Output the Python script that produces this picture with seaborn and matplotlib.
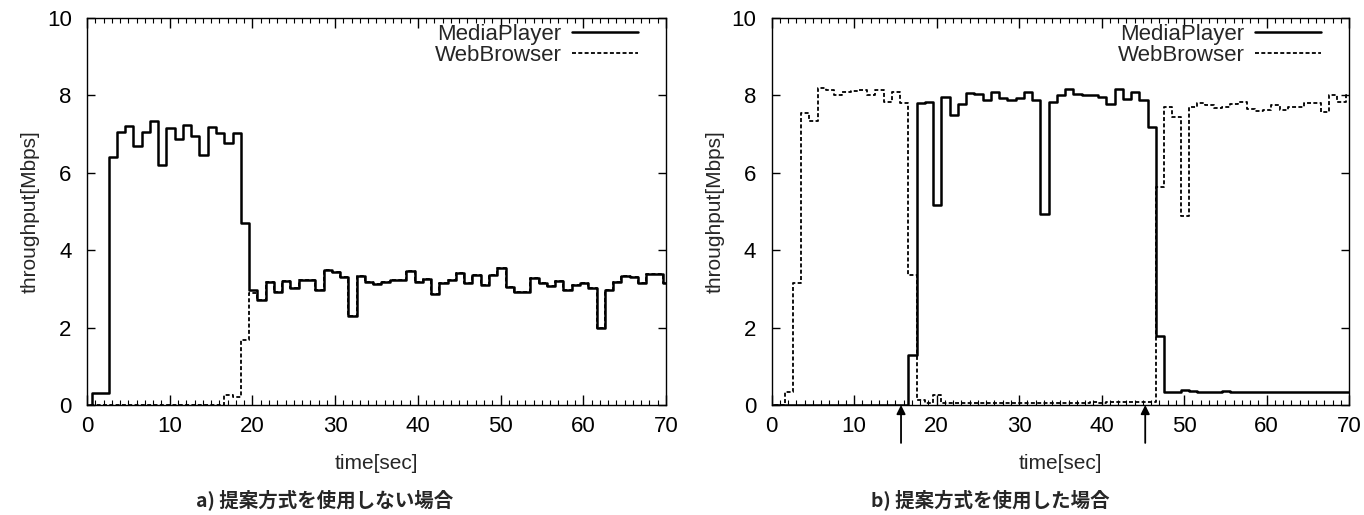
import numpy as np
import pandas as pd
import matplotlib
matplotlib.use("Agg")
import matplotlib.pyplot as plt
import seaborn as sns
from matplotlib.ticker import MultipleLocator

# ---------------- data ----------------
time_sec = np.arange(-0.4, 71.0, 1.0)   # step start times (1 s bins)

a_media = [0.0, 0.31, 0.31, 6.42, 7.05, 7.21, 6.70, 7.05, 7.35, 6.21,
           7.15, 6.88, 7.24, 6.96, 6.45, 7.18, 7.02, 6.76, 7.04, 4.70,
           2.97, 2.71, 3.18, 2.92, 3.20, 3.03, 3.23, 3.23, 2.97, 3.48,
           3.44, 3.32, 2.30, 3.34, 3.18, 3.12, 3.18, 3.22, 3.22, 3.47,
           3.18, 3.25, 2.88, 3.16, 3.22, 3.40, 3.16, 3.37, 3.10, 3.37,
           3.53, 3.05, 2.91, 2.91, 3.28, 3.14, 3.08, 3.20, 2.98, 3.11,
           3.14, 3.03, 1.99, 2.98, 3.18, 3.33, 3.31, 3.16, 3.38, 3.38,
           3.14, 3.14]
a_web = [0.0, 0.0, 0.0, 0.0, 0.0, 0.0, 0.0, 0.0, 0.0, 0.0,
         0.0, 0.0, 0.0, 0.0, 0.0, 0.0, 0.0, 0.26, 0.20, 1.68,
         2.90, 2.71, 3.18, 2.92, 3.20, 3.03, 3.23, 3.23, 2.97, 3.48,
         3.44, 3.32, 2.30, 3.34, 3.18, 3.12, 3.18, 3.22, 3.22, 3.47,
         3.18, 3.25, 2.88, 3.16, 3.22, 3.40, 3.16, 3.37, 3.10, 3.37,
         3.53, 3.05, 2.91, 2.91, 3.28, 3.14, 3.08, 3.20, 2.98, 3.11,
         3.14, 3.03, 1.99, 2.98, 3.18, 3.33, 3.31, 3.16, 3.38, 3.38,
         3.14, 3.14]

b_media = [0.0, 0.0, 0.0, 0.0, 0.0, 0.0, 0.0, 0.0, 0.0, 0.0,
           0.0, 0.0, 0.0, 0.0, 0.0, 0.0, 0.0, 1.29, 7.80, 7.82,
           5.18, 7.97, 7.50, 7.78, 8.06, 8.04, 7.87, 8.08, 7.94, 7.87,
           7.94, 8.10, 7.87, 4.94, 7.84, 8.00, 8.17, 8.04, 8.02, 8.00,
           7.95, 7.78, 8.17, 7.91, 8.10, 7.88, 7.18, 1.78, 0.34, 0.34,
           0.39, 0.36, 0.34, 0.34, 0.34, 0.37, 0.34, 0.33, 0.33, 0.34,
           0.33, 0.34, 0.33, 0.33, 0.34, 0.33, 0.33, 0.34, 0.33, 0.33,
           0.33, 0.33]
b_web = [0.0, 0.0, 0.34, 3.14, 7.54, 7.35, 8.19, 8.13, 8.02, 8.08,
         8.11, 8.15, 8.00, 8.14, 7.82, 8.08, 7.81, 3.37, 0.13, 0.04,
         0.26, 0.06, 0.05, 0.05, 0.06, 0.05, 0.06, 0.05, 0.05, 0.06,
         0.05, 0.05, 0.05, 0.06, 0.05, 0.06, 0.05, 0.06, 0.06, 0.07,
         0.06, 0.08, 0.07, 0.08, 0.08, 0.09, 0.08, 5.63, 7.70, 7.44,
         4.88, 7.70, 7.81, 7.76, 7.67, 7.70, 7.78, 7.82, 7.65, 7.59,
         7.61, 7.76, 7.61, 7.70, 7.70, 7.80, 7.80, 7.57, 8.00, 7.82,
         8.00, 8.00]

arrow_times_b = [15.7, 45.3]

series_names = ["MediaPlayer", "WebBrowser"]
captions = ["a) 提案方式を使用しない場合", "b) 提案方式を使用した場合"]
x_label = "time[sec]"
y_label = "throughput[Mbps]"

# ---------------- style ----------------
sns.set_theme(style="ticks")
plt.rcParams["font.family"] = ["Liberation Sans", "DejaVu Sans"]
plt.rcParams["axes.edgecolor"] = "black"
plt.rcParams["axes.linewidth"] = 1.0

fig = plt.figure(figsize=(13.64, 5.15), dpi=100)
W, H = 1364, 515
ax_a = fig.add_axes([87 / W, (H - 405) / H, 579 / W, 387 / H])
ax_b = fig.add_axes([771.5 / W, (H - 405) / H, 577.5 / W, 387 / H])

panels = [(ax_a, a_media, a_web), (ax_b, b_media, b_web)]

for idx, (ax, media, web) in enumerate(panels):
    df = pd.DataFrame({"time": time_sec, "media": media, "web": web})
    sns.lineplot(data=df, x="time", y="web", ax=ax, color="black",
                 drawstyle="steps-post", linewidth=1.3, label=series_names[1],
                 zorder=2)
    ax.lines[-1].set_dashes((2.2, 1.3))
    sns.lineplot(data=df, x="time", y="media", ax=ax, color="black",
                 drawstyle="steps-post", linewidth=1.8, label=series_names[0],
                 zorder=3)

    ax.set_xlim(0, 70)
    ax.set_ylim(0, 10)
    ax.xaxis.set_major_locator(MultipleLocator(10))
    ax.xaxis.set_minor_locator(MultipleLocator(1))
    ax.yaxis.set_major_locator(MultipleLocator(2))
    ax.tick_params(axis="both", which="both", direction="in",
                   top=True, right=True, colors="black", labelsize=16)
    ax.tick_params(axis="x", which="major", length=7, width=1, pad=8)
    ax.tick_params(axis="x", which="minor", length=3.5, width=0.8)
    ax.tick_params(axis="y", which="major", length=6, width=1, pad=11)
    for s in ax.spines.values():
        s.set_visible(True)
        s.set_color("black")
        s.set_linewidth(1.0)

    ax.set_xlabel(x_label, fontsize=15, labelpad=12)
    ax.set_ylabel(y_label, fontsize=15, labelpad=5)

    handles, labels = ax.get_legend_handles_labels()
    order = [labels.index(n) for n in series_names]
    ax.legend([handles[i] for i in order], [labels[i] for i in order],
              loc="upper right", bbox_to_anchor=(0.952, 0.985),
              frameon=False, markerfirst=False, fontsize=16,
              handlelength=3.0, handletextpad=0.45, labelspacing=0.0,
              borderaxespad=0, borderpad=0)

for t in arrow_times_b:
    ax_b.annotate("", xy=(t, 0), xytext=(t, -0.98),
                  arrowprops=dict(arrowstyle="-|>", color="black", lw=1.3,
                                  mutation_scale=13, shrinkA=0, shrinkB=0),
                  annotation_clip=False)

fig.text(325 / W, 1 - 500 / H, captions[0], ha="center", va="center",
         fontsize=14, fontweight="bold",
         family=["Noto Sans CJK JP", "DejaVu Sans"])
fig.text(990 / W, 1 - 500 / H, captions[1], ha="center", va="center",
         fontsize=14, fontweight="bold",
         family=["Noto Sans CJK JP", "DejaVu Sans"])

fig.savefig("out.png", dpi=100)
